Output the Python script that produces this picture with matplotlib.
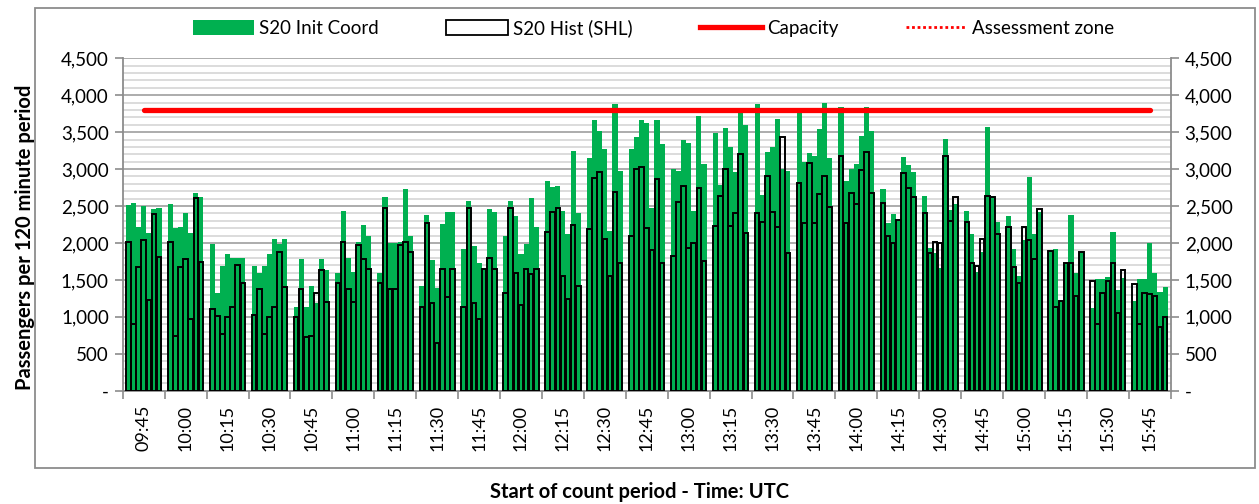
import numpy as np
import matplotlib.pyplot as plt
from matplotlib.patches import Patch, Rectangle
from matplotlib.lines import Line2D
from matplotlib.ticker import FuncFormatter, MultipleLocator

plt.rcParams['font.family'] = ['Lato', 'DejaVu Sans']

times = ["09:45", "10:00", "10:15", "10:30", "10:45", "11:00", "11:15", "11:30",
         "11:45", "12:00", "12:15", "12:30", "12:45", "13:00", "13:15", "13:30",
         "13:45", "14:00", "14:15", "14:30", "14:45", "15:00", "15:15", "15:30",
         "15:45"]

# 7 bars per 15 minute group
init_coord = [
    2514, 2536, 2220, 2505, 2130, 2455, 2473,
    2523, 2198, 2220, 2401, 2130, 2672, 2618,
    1981, 1318, 1688, 1846, 1800, 1800, 1800,
    1688, 1589, 1688, 1846, 2058, 1986, 2058,
    1137, 1778, 1137, 1417, 1182, 1778, 1634,
    1598, 2432, 1792, 1611, 2017, 2238, 2099,
    1598, 2618, 1995, 1995, 2017, 2726, 2099,
    1421, 2378, 1769, 1385, 2256, 2423, 2423,
    1913, 2568, 1959, 1724, 1634, 2455, 2423,
    2099, 2568, 2369, 1850, 1981, 2604, 2216,
    2839, 2762, 2776, 2432, 2117, 3245, 2401,
    3155, 3665, 3516, 3272, 2162, 3881, 2974,
    3272, 3430, 3665, 3620, 2478, 3665, 3340,
    2997, 2979, 3394, 3349, 2432, 3723, 3064,
    3493, 2785, 3552, 3295, 2965, 3764, 3601,
    3881, 2649, 3231, 3295, 3674, 3001, 2974,
    3777, 3096, 3222, 3177, 3547, 3890, 3150,
    3845, 2843, 2997, 3069, 3448, 3836, 3520,
    2730, 2266, 2392, 2302, 3159, 3051, 2956,
    2636, 1927, 1859, 1656, 3403, 2446, 2527,
    2432, 2121, 1602, 1882, 3565, 2636, 2288,
    2369, 1918, 1552, 2035, 2897, 2121, 2423,
    1904, 1913, 1200, 1733, 2378, 1589, 1882,
    1115, 1512, 1512, 1544, 2144, 1363, 1530,
    1218, 1512, 1512, 2004, 1598, 1331, 1408,
]

hist_shl = [
    2017, 903, 1670, 2040, 1228, 2387, 1814,
    2017, 740, 1670, 1778, 966, 2604, 1747,
    1106, 1011, 763, 993, 1137, 1701, 1453,
    1024, 1372, 763, 993, 1137, 1882, 1399,
    993, 1372, 722, 740, 1327, 1629, 1196,
    1453, 2017, 1376, 1196, 1972, 1783, 1647,
    1453, 2473, 1376, 1376, 1972, 2008, 1873,
    1128, 2274, 1191, 641, 1647, 1264, 1643,
    1128, 2469, 1191, 970, 1647, 1792, 1643,
    1327, 2469, 1598, 1160, 1647, 1575, 1643,
    2144, 2423, 2469, 1557, 1246, 2243, 1421,
    2189, 2884, 2956, 2058, 1557, 2685, 1724,
    2099, 3002, 3024, 2207, 1904, 2866, 1724,
    1828, 2559, 2771, 1927, 2004, 2740, 1760,
    2229, 2636, 2997, 2229, 2401, 3200, 2139,
    2405, 2283, 2906, 2419, 2211, 3430, 1859,
    2816, 2270, 3087, 2270, 2658, 2911, 2491,
    3177, 2270, 2672, 2523, 2988, 3236, 2672,
    2536, 2099, 1995, 2311, 2943, 2748, 2627,
    2410, 1868, 2008, 1995, 3182, 2292, 2617,
    2279, 1733, 1692, 2049, 2640, 2627, 2117,
    2220, 1670, 1453, 2220, 2040, 1787, 2460,
    1895, 1137, 1218, 1733, 1733, 1286, 1882,
    1489, 898, 1318, 1489, 1724, 1047, 1629,
    1444, 903, 1318, 1309, 1282, 866, 993,
]

capacity = 3800

n_groups = len(times)
per_group = 7
w = 0.1217
x = []
for g in range(n_groups):
    for j in range(per_group):
        x.append(g + (j - 3) * w)
x = np.array(x)

fig = plt.figure(figsize=(12.59, 5.04), dpi=100)
ax = fig.add_axes([0.0975, 0.2248, 0.8324, 0.6595])

ax.bar(x, init_coord, width=w, color='#00b050', zorder=2)
ax.bar(x, hist_shl, width=w * 0.9, facecolor='none', edgecolor='black',
       linewidth=1.4, zorder=3)
ax.plot(np.arange(n_groups), [capacity] * n_groups, color='#ff0000', lw=3.8,
        solid_capstyle='round', zorder=4)

ax.set_xlim(-0.5, n_groups - 0.5)
ax.set_ylim(0, 4500)

ax.yaxis.set_major_locator(MultipleLocator(500))
ax.yaxis.set_minor_locator(MultipleLocator(100))
fmt = FuncFormatter(lambda v, p: '-' if v == 0 else f'{int(v):,}')
ax.yaxis.set_major_formatter(fmt)
ax.grid(axis='y', which='minor', color='#d9d9d9', lw=1.3, zorder=0)
ax.grid(axis='y', which='major', color='#a6a6a6', lw=1.3, zorder=1)
ax.set_axisbelow(True)

ax.set_xticks(np.arange(n_groups))
ax.set_xticklabels(times, rotation=90, fontsize=13)
ax.set_xticks(np.arange(n_groups + 1) - 0.5, minor=True)
ax.tick_params(axis='x', which='major', length=0, pad=10)
ax.tick_params(axis='x', which='minor', length=6, color='#8c8c8c', width=1.2)
ax.tick_params(axis='y', which='major', labelsize=13.5, length=6, color='#8c8c8c',
               width=1.2, right=True, labelright=True, pad=4)
ax.tick_params(axis='y', which='minor', length=0)

for s in ['left', 'right', 'bottom']:
    ax.spines[s].set_color('#8c8c8c')
    ax.spines[s].set_linewidth(1.3)
ax.spines['top'].set_visible(False)

ax.set_ylabel('Passengers per 120 minute period', fontsize=14.5, fontweight='bold')
ax.yaxis.set_label_coords(-0.084, 0.46)
fig.text(0.508, 0.023, 'Start of count period - Time: UTC', ha='center',
         va='center', fontsize=14.5, fontweight='bold')

handles = [
    Patch(facecolor='#00b050', edgecolor='none'),
    Patch(facecolor='white', edgecolor='black', linewidth=1.3),
    Line2D([], [], color='#ff0000', lw=3.8),
    Line2D([], [], color='#ff0000', lw=2, ls=(0, (1, 1))),
]
labels = ['S20 Init Coord', 'S20 Hist (SHL)', 'Capacity', 'Assessment zone']
fig.legend(handles, labels, loc='center', bbox_to_anchor=(0.519, 0.944), ncol=4,
           frameon=False, fontsize=13.5, handlelength=3.3, handleheight=0.8,
           handletextpad=0.25, columnspacing=3.6)

fig.patches.append(Rectangle((35 / 1259, 36 / 504), 1220 / 1259, 460 / 504,
                             transform=fig.transFigure, fill=False,
                             edgecolor='#8c8c8c', lw=1.3))

fig.savefig('out.png', dpi=100)
